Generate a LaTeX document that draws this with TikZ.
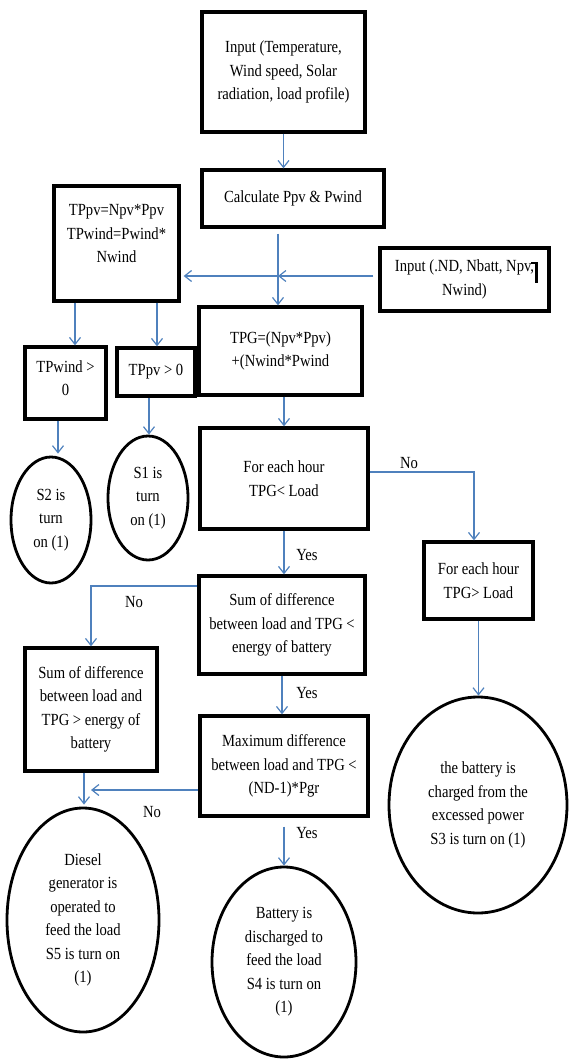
\documentclass[tikz,border=0pt]{standalone}
\usepackage{fontspec}
\setmainfont{Liberation Serif}[FakeStretch=0.86]
\usetikzlibrary{arrows.meta,shapes.geometric,calc}
\definecolor{conn}{RGB}{79,129,189}
\begin{document}
\begin{tikzpicture}[x=1pt,y=-1pt,
  txt/.style={font=\fontsize{17pt}{23.5pt}\selectfont, align=center, inner sep=0pt},
  box/.style={txt, draw=black, line width=3.3pt, rectangle},
  oval/.style={txt, draw=black, line width=2.8pt, ellipse},
  arr/.style={draw=conn, line width=1.2pt, -{Straight Barb[length=7pt,width=11pt]}},
  ln/.style={draw=conn, line width=1.2pt},
  lab/.style={font=\fontsize{17pt}{23.5pt}\selectfont, inner sep=0pt}]
\path[use as bounding box] (0,0) rectangle (568,1059);

% boxes
\node[box, minimum width=163pt, minimum height=120pt] (in1) at (283.5,72) {Input (Temperature,\\Wind speed, Solar\\radiation, load profile)};
\node[box, minimum width=182pt, minimum height=57pt] (calc) at (293,198.5) {Calculate Ppv \& Pwind};
\node[box, minimum width=125pt, minimum height=115pt,
      label={[txt, yshift=9.5pt]center:{TPpv=Npv*Ppv\\TPwind=Pwind*\\Nwind}}] (tppv) at (116.5,243.5) {};
\node[box, minimum width=169pt, minimum height=63pt] (innd) at (464.5,279.5) {Input (.ND, Nbatt, Npv,\\Nwind)};
\node[box, minimum width=163pt, minimum height=88pt] (tpg) at (280.5,351) {TPG=(Npv*Ppv)\\+(Nwind*Pwind};
\node[box, minimum width=81pt, minimum height=72pt,
      label={[txt, yshift=5pt]center:{TPwind >\\0}}] (tpwind) at (65.5,383) {};
\node[box, minimum width=78pt, minimum height=48pt] (tppv0) at (156,372) {TPpv > 0};
\node[box, minimum width=168pt, minimum height=101pt] (fe1) at (284,478.5) {For each hour\\TPG< Load};
\node[box, minimum width=109pt, minimum height=77pt] (fe2) at (478.5,580.5) {For each hour\\TPG> Load};
\node[box, minimum width=166pt, minimum height=98pt] (sum1) at (282,625) {Sum of difference\\between load and TPG <\\energy of battery};
\node[box, minimum width=132pt, minimum height=123pt] (sum2) at (91,709.5) {Sum of difference\\between load and\\TPG > energy of\\battery};
\node[box, minimum width=168pt, minimum height=100pt] (max) at (284,766) {Maximum difference\\between load and TPG <\\(ND-1)*Pgr};

% ovals
\node[oval, minimum width=80pt, minimum height=126pt] (s2) at (51,520) {S2 is\\turn\\on (1)};
\node[oval, minimum width=80pt, minimum height=124pt] (s1) at (148,498) {S1 is\\turn\\on (1)};
\node[oval, minimum width=178pt, minimum height=216pt] (s3) at (478,805) {the battery is\\charged from the\\excessed power\\S3 is turn on (1)};
\node[oval, minimum width=152pt, minimum height=224pt] (s5) at (83,920) {Diesel\\generator is\\operated to\\feed the load\\S5 is turn on\\(1)};
\node[oval, minimum width=144pt, minimum height=190pt] (s4) at (284,962) {Battery is\\discharged to\\feed the load\\S4 is turn on\\(1)};

% helper coordinates
\coordinate (c2) at (278,0);
\coordinate (x1) at (278,276);
\coordinate (xa) at (75,0);
\coordinate (xb) at (157,0);
\coordinate (xc) at (58,0);
\coordinate (xd) at (149,0);
\coordinate (yn) at (0,472);
\coordinate (xe) at (474,0);
\coordinate (ys) at (0,586);
\coordinate (nl) at (91,790);
\coordinate (xf) at (84,0);

% connectors
\draw[arr] (in1.south) -- (in1.south |- calc.north);
\draw[arr] ($(calc.south -| c2)+(0,5)$) -- (tpg.north -| c2);
\draw[arr] ($(innd.west |- x1)+(-5,0)$) -- (x1);
\draw[arr] (x1) -- ($(tppv.east |- x1)+(3,0)$);
\draw[arr] (tppv.south -| xa) -- (tpwind.north -| xa);
\draw[arr] (tppv.south -| xb) -- (tppv0.north -| xb);
\draw[arr] (tpwind.south -| xc) -- ($(s2.north -| xc)+(0,-2)$);
\draw[arr] (tppv0.south -| xd) -- (s1.north -| xd);
\draw[arr] (tpg.south -| fe1.north) -- (fe1.north);
\draw[arr] (fe1.east |- yn) -| (fe2.north -| xe);
\draw[arr] (fe1.south) -- (fe1.south |- sum1.north);
\draw[arr] (sum1.west |- ys) -| (sum2.north);
\draw[arr] (fe2.south) -- (fe2.south |- s3.north);
\draw[arr] (sum1.south) -- (sum1.south |- max.north);
\draw[arr] (max.west |- nl) -- (nl);
\draw[arr] (sum2.south -| xf) -- ($(s5.north -| xf)+(0,-2)$);
\draw[arr] ($(max.south)+(0,9)$) -- (s4.north);

% branch labels
\node[lab] (no1) at (409,463) {No};
\node[lab] (yes1) at (307,555) {Yes};
\node[lab] (no2) at (134,602) {No};
\node[lab] (yes2) at (307,693) {Yes};
\node[lab] (no3) at (152,812) {No};
\node[lab] (yes3) at (307,833) {Yes};

% stray bar in the input box
\draw[line width=2.5pt] (531,263) -- (536.5,263) -- (536.5,283);
\end{tikzpicture}
\end{document}
